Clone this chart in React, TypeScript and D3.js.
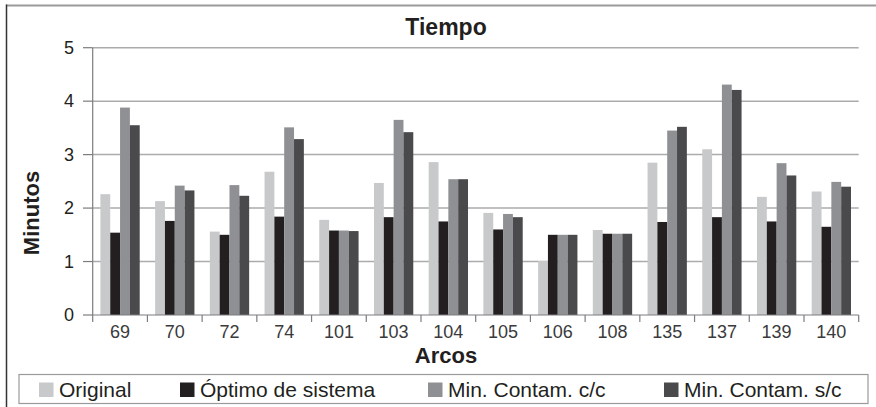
import React from "react";
import * as d3 from "d3";

// Arcs (x categories)
const arcos = ["69", "70", "72", "74", "101", "103", "104", "105", "106", "108", "135", "137", "139", "140"];

// Series values, minutes per arc
const original = [2.26, 2.13, 1.56, 2.68, 1.78, 2.47, 2.86, 1.91, 1.01, 1.59, 2.85, 3.1, 2.21, 2.31];
const optimoSistema = [1.54, 1.76, 1.5, 1.84, 1.58, 1.83, 1.75, 1.6, 1.5, 1.52, 1.74, 1.83, 1.75, 1.65];
const minContamCC = [3.88, 2.42, 2.43, 3.51, 1.58, 3.65, 2.54, 1.89, 1.5, 1.52, 3.45, 4.31, 2.84, 2.49];
const minContamSC = [3.55, 2.33, 2.23, 3.29, 1.57, 3.42, 2.54, 1.83, 1.5, 1.52, 3.52, 4.21, 2.61, 2.4];

const seriesNames = ["Original", "Óptimo de sistema", "Min. Contam. c/c", "Min. Contam. s/c"];
const seriesColors = ["#c8c9cb", "#231f20", "#8f9094", "#4a4a4d"];
const yTicks = [0, 1, 2, 3, 4, 5];

const W = 876;
const H = 407;
const FONT = "'Liberation Sans', Arial, sans-serif";
const TEXT = "#231f20";

export default function App() {
  const series = [original, optimoSistema, minContamCC, minContamSC];

  const x0 = d3.scaleBand<string>().domain(arcos).range([92.7, 858.7]).padding(0);
  const x1 = d3
    .scaleBand<number>()
    .domain(d3.range(series.length))
    .range([7.7, x0.bandwidth() - 7.7])
    .padding(0);
  const y = d3.scaleLinear().domain([0, 5]).range([315, 47.7]);

  const legendX = [39, 180, 428, 664];

  return (
    <svg
      width={W}
      height={H}
      style={{ position: "absolute", left: 0, top: 0, background: "#fff" }}
      fontFamily={FONT}
    >
      {/* outer frame */}
      <line x1={6} y1={5.5} x2={W} y2={5.5} stroke="#9a9a9c" strokeWidth={2} />
      <line x1={6.5} y1={4.5} x2={6.5} y2={H} stroke="#333" strokeWidth={1.5} />

      {/* title */}
      <text x={446} y={35} textAnchor="middle" fontSize={23} fontWeight="bold" fill={TEXT}>
        Tiempo
      </text>

      {/* gridlines */}
      {yTicks.slice(1).map((t) => (
        <line
          key={`g${t}`}
          x1={92.7}
          x2={858.7}
          y1={y(t)}
          y2={y(t)}
          stroke="#ababad"
          strokeWidth={1.5}
        />
      ))}

      {/* bars */}
      {arcos.map((a, i) => (
        <g key={a} transform={`translate(${x0(a)},0)`}>
          {series.map((s, k) => (
            <rect
              key={k}
              x={x1(k)}
              y={y(s[i])}
              width={x1.bandwidth()}
              height={y(0) - y(s[i])}
              fill={seriesColors[k]}
            />
          ))}
        </g>
      ))}

      {/* y axis */}
      <line x1={92.7} x2={92.7} y1={47.7} y2={315} stroke="#7d7d80" strokeWidth={1.2} />
      {yTicks.map((t) => (
        <g key={`y${t}`}>
          <line x1={83} x2={92.7} y1={y(t)} y2={y(t)} stroke="#7d7d80" strokeWidth={1.2} />
          <text x={74} y={y(t) + 6.3} textAnchor="end" fontSize={18} fill={TEXT}>
            {t}
          </text>
        </g>
      ))}

      {/* x axis */}
      <line x1={92.7} x2={858.7} y1={315} y2={315} stroke="#7d7d80" strokeWidth={1.2} />
      {arcos.map((a) => (
        <line
          key={`t${a}`}
          x1={x0(a)!}
          x2={x0(a)!}
          y1={315}
          y2={322}
          stroke="#7d7d80"
          strokeWidth={1.2}
        />
      ))}
      <line x1={858.7} x2={858.7} y1={315} y2={322} stroke="#7d7d80" strokeWidth={1.2} />
      {arcos.map((a) => (
        <text
          key={`l${a}`}
          x={x0(a)! + x0.bandwidth() / 2}
          y={337.5}
          textAnchor="middle"
          fontSize={18}
          fill="#3a3a3c"
        >
          {a}
        </text>
      ))}

      {/* axis titles */}
      <text x={446} y={363} textAnchor="middle" fontSize={22} fontWeight="bold" fill={TEXT}>
        Arcos
      </text>
      <text
        transform={`translate(39,213) rotate(-90)`}
        textAnchor="middle"
        fontSize={22}
        fontWeight="bold"
        fill={TEXT}
      >
        Minutos
      </text>

      {/* legend */}
      <rect x={19} y={374.5} width={849} height={29} fill="#fff" stroke="#9a9a9c" strokeWidth={1.2} />
      {seriesNames.map((n, k) => (
        <g key={n}>
          <rect x={legendX[k]} y={382.5} width={14.5} height={14.5} fill={seriesColors[k]} />
          <text x={legendX[k] + 20} y={397} fontSize={21} fill={TEXT}>
            {n}
          </text>
        </g>
      ))}
    </svg>
  );
}
